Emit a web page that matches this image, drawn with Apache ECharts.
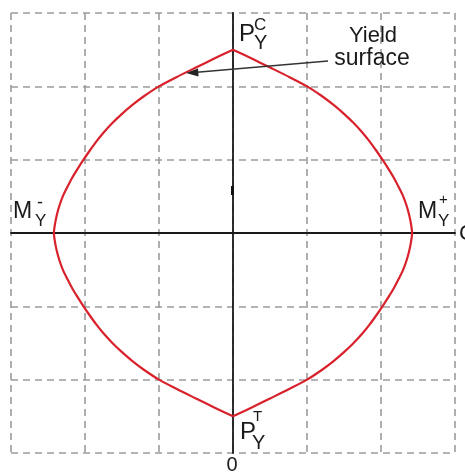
<!DOCTYPE html>
<html>
<head>
<meta charset="utf-8">
<style>
  html, body { margin: 0; padding: 0; background: #ffffff; }
  #chart { width: 465px; height: 473px; }
</style>
<script src="https://cdn.jsdelivr.net/npm/echarts@6/dist/echarts.min.js"></script>
</head>
<body>
<div id="chart"></div>
<script>
// Axial force levels (P), from the compression apex down to the tension apex
const axialLevels = [2.5, 2.375, 2.25, 2.125, 2.0, 1.875, 1.75, 1.625, 1.5, 1.375, 1.25, 1.125, 1.0,
                     0.875, 0.75, 0.625, 0.5, 0.375, 0.25, 0.125, 0,
                     -0.125, -0.25, -0.375, -0.5, -0.625, -0.75, -0.875, -1.0,
                     -1.125, -1.25, -1.375, -1.5, -1.625, -1.75, -1.875, -2.0,
                     -2.125, -2.25, -2.375, -2.5];
// Moment capacity on the positive-moment branch at each level
const momentPositive = [0, 0.26, 0.515, 0.765, 1.00, 1.19, 1.355, 1.50, 1.63, 1.745, 1.845, 1.935, 2.02,
                        2.10, 2.175, 2.24, 2.30, 2.345, 2.38, 2.405, 2.42,
                        2.405, 2.38, 2.345, 2.30, 2.24, 2.175, 2.10, 2.02,
                        1.935, 1.845, 1.745, 1.63, 1.50, 1.355, 1.19, 1.00,
                        0.765, 0.515, 0.26, 0];
// Moment capacity on the negative-moment branch at each level
const momentNegative = [0, -0.26, -0.515, -0.765, -1.00, -1.19, -1.355, -1.50, -1.63, -1.745, -1.845, -1.935, -2.02,
                        -2.10, -2.175, -2.24, -2.30, -2.345, -2.38, -2.405, -2.42,
                        -2.405, -2.38, -2.345, -2.30, -2.24, -2.175, -2.10, -2.02,
                        -1.935, -1.845, -1.745, -1.63, -1.50, -1.355, -1.19, -1.00,
                        -0.765, -0.515, -0.26, 0];
// Axis extents and grid spacing
const axisMin = -3, axisMax = 3, gridStep = 1;

const FONT = '"Liberation Sans", Arial, sans-serif';
const INK = '#1a1a1a';

const rightBranch = axialLevels.map((p, i) => [momentPositive[i], p]);
const leftBranch = axialLevels.map((p, i) => [momentNegative[i], p]);

function txt(text, x, y, size, align) {
  return {
    type: 'text', x: x, y: y, z: 10,
    style: {
      text: text, fill: INK, fontSize: size, fontFamily: FONT,
      textAlign: align || 'left', textVerticalAlign: 'middle'
    }
  };
}

const chart = echarts.init(document.getElementById('chart'), null, { renderer: 'canvas' });

const dashed = { show: true, lineStyle: { color: '#9c9c9c', width: 1.6, type: [7, 5] } };
const axisCommon = {
  type: 'value', min: axisMin, max: axisMax, interval: gridStep,
  axisLine: { show: true, onZero: true, lineStyle: { color: INK, width: 1.8 } },
  axisTick: { show: false },
  axisLabel: { show: false },
  splitLine: dashed
};

const curveStyle = { color: '#d9212b', width: 2.2 };

chart.setOption({
  animation: false,
  backgroundColor: '#ffffff',
  grid: { left: 11, top: 13, width: 444, height: 440 },
  xAxis: Object.assign({}, axisCommon),
  yAxis: Object.assign({}, axisCommon),
  series: [
    { type: 'line', data: rightBranch, smooth: 0.3, showSymbol: false, lineStyle: curveStyle, z: 5 },
    { type: 'line', data: leftBranch, smooth: 0.3, showSymbol: false, lineStyle: curveStyle, z: 5 }
  ],
  graphic: [
    // P_Y^C
    txt('P', 239, 34, 24), txt('C', 254, 25, 17), txt('Y', 254, 43, 20),
    // P_Y^T
    txt('P', 240, 432, 24), txt('T', 253, 417, 15), txt('Y', 252, 443, 20),
    // M_Y^-
    txt('M', 13, 212, 23), txt('-', 37, 203, 18), txt('Y', 35, 221, 17),
    // M_Y^+
    txt('M', 418, 212, 23), txt('+', 439, 200, 15), txt('Y', 438, 221, 17),
    // Yield surface annotation
    txt('Yield', 373, 36, 22, 'center'), txt('surface', 372, 59, 23, 'center'),
    {
      type: 'line', z: 10,
      shape: { x1: 328, y1: 61, x2: 194, y2: 72.5 },
      style: { stroke: '#333333', lineWidth: 1.5 }
    },
    {
      type: 'polygon', z: 10,
      shape: { points: [[186, 73], [198, 68.5], [198.5, 76.5]] },
      style: { fill: '#222222' }
    },
    // short mark on the vertical axis
    { type: 'rect', z: 10, shape: { x: 231, y: 186, width: 3, height: 9 }, style: { fill: '#111111' } },
    // origin and clipped axis letter
    txt('0', 232, 465, 20, 'center'),
    txt('C', 459, 234, 22)
  ]
});
</script>
</body>
</html>
